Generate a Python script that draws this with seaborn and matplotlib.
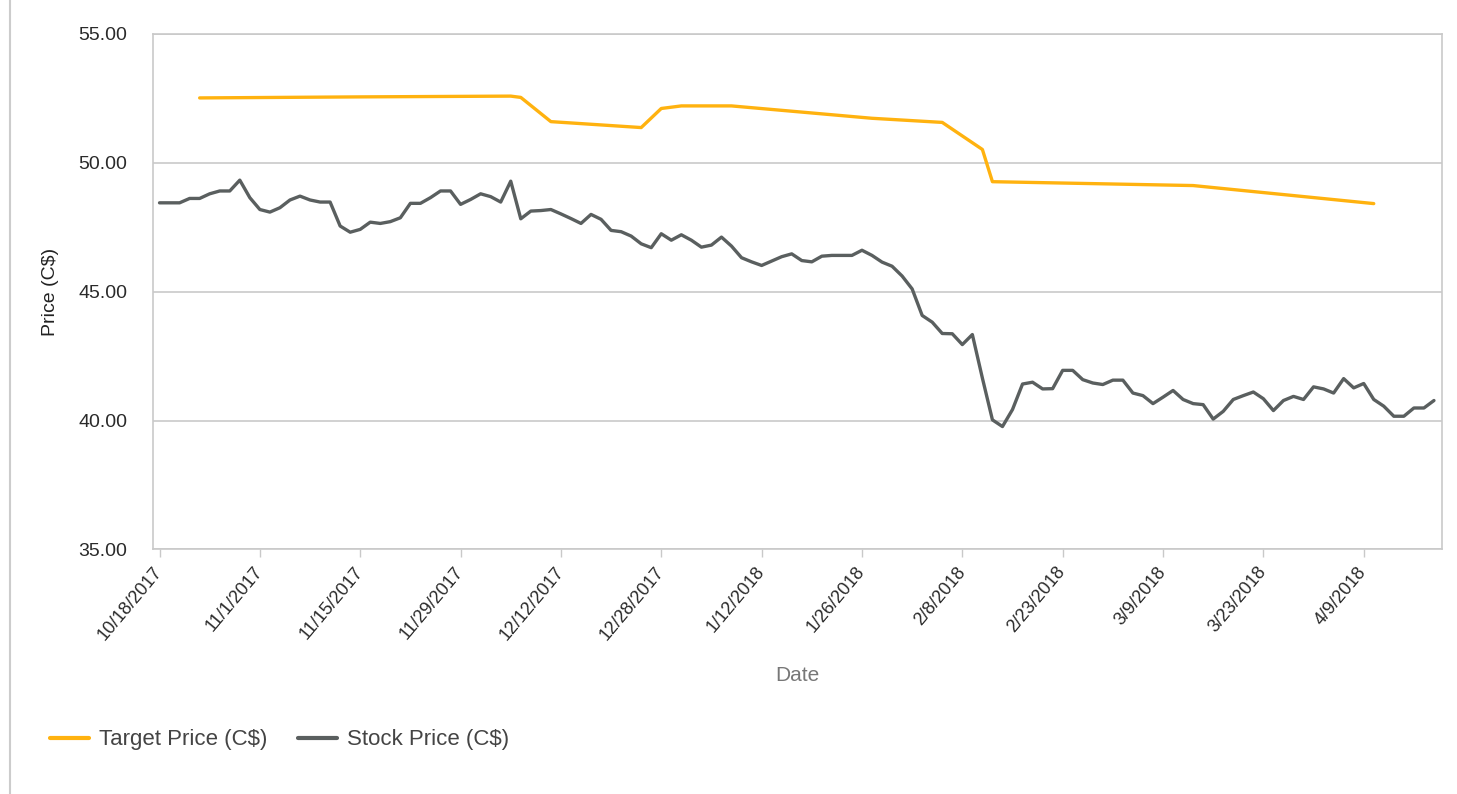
import pandas as pd
import matplotlib.pyplot as plt
from matplotlib.lines import Line2D
import seaborn as sb

# Daily closing price, one value per trading day starting 10/18/2017
stock_price = [
    48.45, 48.45, 48.45, 48.62, 48.62, 48.80, 48.91, 48.91, 49.33, 48.65,
    48.19, 48.09, 48.26, 48.56, 48.71, 48.56, 48.48, 48.48, 47.55, 47.31,
    47.42, 47.70, 47.65, 47.72, 47.87, 48.43, 48.43, 48.65, 48.91, 48.91,
    48.39, 48.58, 48.80, 48.69, 48.48, 49.29, 47.83, 48.13, 48.15, 48.19,
    48.02, 47.84, 47.65, 48.00, 47.81, 47.38, 47.33, 47.16, 46.86, 46.71,
    47.25, 47.00, 47.21, 47.00, 46.73, 46.81, 47.12, 46.77, 46.32, 46.16,
    46.02, 46.19, 46.36, 46.47, 46.21, 46.16, 46.38, 46.41, 46.41, 46.41,
    46.61, 46.41, 46.15, 45.99, 45.61, 45.11, 44.08, 43.82, 43.38, 43.37,
    42.95, 43.34, 41.65, 40.03, 39.77, 40.43, 41.42, 41.49, 41.23, 41.24,
    41.95, 41.95, 41.59, 41.46, 41.40, 41.57, 41.57, 41.07, 40.97, 40.66,
    40.91, 41.17, 40.82, 40.66, 40.62, 40.06, 40.36, 40.82, 40.97, 41.11,
    40.85, 40.39, 40.78, 40.94, 40.82, 41.31, 41.23, 41.07, 41.63, 41.27,
    41.44, 40.82, 40.56, 40.17, 40.17, 40.49, 40.49, 40.78,
]

# Analyst target price, known on fewer days (trading-day index)
target_day = [4, 20, 35, 36, 39, 48, 50, 52, 57, 71, 78, 82, 83, 103, 121]
target_price = [52.52, 52.56, 52.59, 52.54, 51.60, 51.37, 52.11, 52.21, 52.21,
                51.73, 51.57, 50.52, 49.27, 49.12, 48.42]

tick_days = list(range(0, 121, 10))
tick_labels = ['10/18/2017', '11/1/2017', '11/15/2017', '11/29/2017', '12/12/2017',
               '12/28/2017', '1/12/2018', '1/26/2018', '2/8/2018', '2/23/2018',
               '3/9/2018', '3/23/2018', '4/9/2018']

target_df = pd.DataFrame({'day': target_day, 'price': target_price,
                          'series': 'Target Price (C$)'})
stock_df = pd.DataFrame({'day': range(len(stock_price)), 'price': stock_price,
                         'series': 'Stock Price (C$)'})
df = pd.concat([target_df, stock_df], ignore_index=True)

sb.set_style('white')
plt.rcParams['font.family'] = ['Liberation Sans', 'DejaVu Sans']

orange = '#FFB20F'
grey = '#5a5f5f'
light = '#c9c9c9'

fig = plt.figure(figsize=(14.57, 7.94), dpi=100)
ax = fig.add_axes([0.10535, 0.30794, 0.88435, 0.64924])

sb.lineplot(data=df, x='day', y='price', hue='series',
            palette={'Target Price (C$)': orange, 'Stock Price (C$)': grey},
            linewidth=2.4, ax=ax)

handles, labels = ax.get_legend_handles_labels()
ax.get_legend().remove()

ax.set_xlim(-0.6, 127.8)
ax.set_ylim(35, 55)
ax.set_yticks([35, 40, 45, 50, 55])
ax.set_yticklabels([f'{v:.2f}' for v in [35, 40, 45, 50, 55]])
ax.set_xticks(tick_days)
ax.set_xticklabels(tick_labels)

ax.yaxis.grid(True, color=light, linewidth=1.2)
ax.xaxis.grid(False)
for s in ax.spines.values():
    s.set_color(light)
    s.set_linewidth(1.2)

ax.tick_params(axis='y', length=0, pad=19, labelsize=14, labelcolor='#2a2a2a')
ax.tick_params(axis='x', length=6, width=1, color=light, pad=8,
               labelsize=13, labelcolor='#2a2a2a', bottom=True)
for lbl in ax.get_xticklabels():
    lbl.set_rotation(50)
    lbl.set_ha('right')
    lbl.set_va('center')
    lbl.set_rotation_mode('anchor')

ax.set_xlabel('Date', fontsize=15, color='#777777')
ax.xaxis.set_label_coords(0.5, -0.2454)
ax.xaxis.label.set_va('center')
ax.set_ylabel('Price (C$)', fontsize=14, color='#222222')
ax.yaxis.label.set_va('center')
ax.yaxis.set_label_coords(-0.0800, 0.5)

for h in handles:
    h.set_linewidth(3)
leg = fig.legend(handles, labels, loc='center left',
                 bbox_to_anchor=(50 / 1457, 1 - 740 / 794), frameon=False,
                 ncol=2, fontsize=16, handlelength=1.75, handletextpad=0.45,
                 columnspacing=1.4, borderpad=0, borderaxespad=0)
for t in leg.get_texts():
    t.set_color('#444444')

# thin frame line at the left edge of the picture
fig.add_artist(Line2D([9.5 / 1457, 9.5 / 1457], [0, 1], color='#cccccc',
                      linewidth=1.5, transform=fig.transFigure))

plt.savefig('out.png', dpi=100)
